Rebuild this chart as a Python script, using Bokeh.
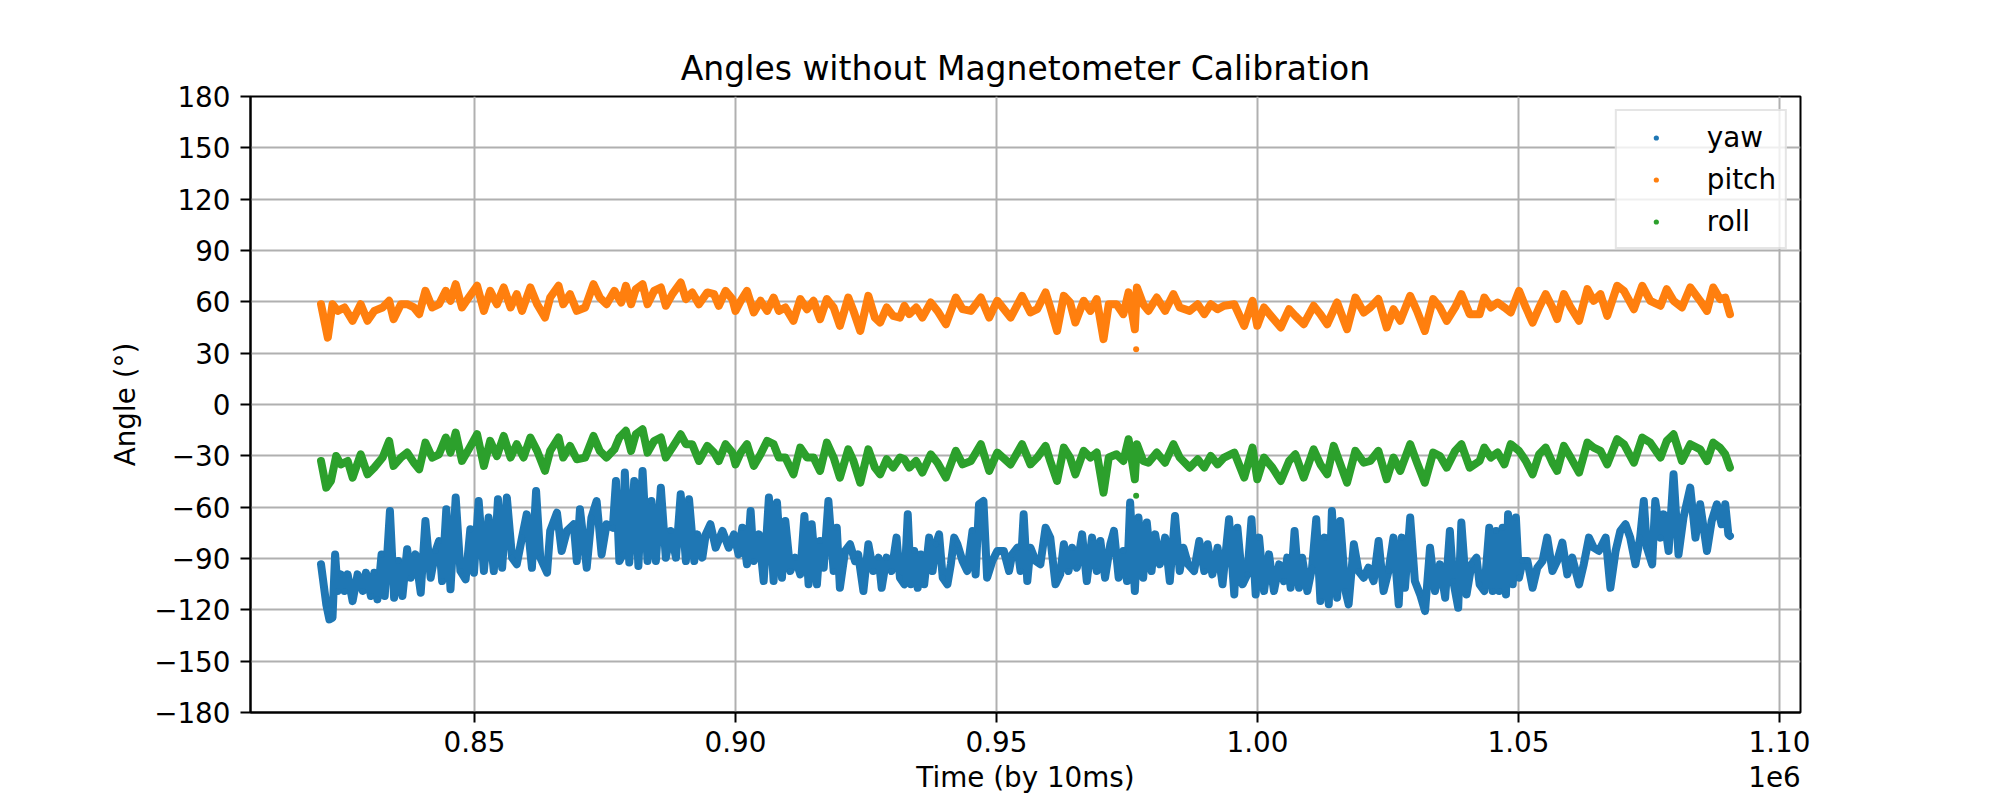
from bokeh.plotting import figure
from bokeh.models import Legend, LegendItem, FixedTicker, Range1d, LinearAxis
from bokeh.embed import file_html
from bokeh.resources import INLINE

# ---- data (time in thousands of 10 ms ticks, angle in degrees) ----
pitch_samples = [
    (820.6, 58.6), (821.9, 39.1), (822.8, 58.6), (823.8, 54.7), (825.1, 56.7), (826.65, 48.9),
    (828.2, 58.6), (829.5, 48.9), (830.8, 54.7), (832.4, 56.7), (833.65, 60.6), (834.5, 49.9),
    (835.9, 58.6), (837.1, 58.6), (838.4, 56.7), (839.4, 52.8), (840.6, 66.4), (841.9, 56.7),
    (843.2, 58.6), (844.5, 66.4), (845.4, 60.6), (846.4, 70.3), (847.6, 56.7), (848.9, 62.5),
    (850.5, 69.4), (851.8, 54.7), (853.0, 66.4), (854.3, 58.6), (855.6, 68.4), (856.9, 56.7),
    (858.1, 64.5), (859.1, 54.7), (860.7, 68.4), (862.0, 58.6), (863.5, 50.8), (864.5, 62.5),
    (866.1, 69.4), (867.0, 58.6), (868.3, 64.5), (869.6, 54.7), (871.2, 56.7), (872.8, 70.3),
    (874.0, 62.5), (875.3, 58.6),
    (876.8, 66.4), (878.1, 59.6), (879.0, 69.4), (880.0, 58.6), (880.9, 67.4), (882.2, 70.3),
    (883.15, 58.6), (884.4, 66.4), (885.7, 68.4), (886.65, 57.7), (887.9, 64.5), (889.5, 71.3),
    (890.5, 61.6), (891.7, 65.5), (893.0, 58.6), (894.6, 65.5), (895.9, 64.5), (896.8, 57.7),
    (898.1, 66.4), (899.4, 61.6), (900.0, 54.7), (901.0, 60.6), (902.2, 66.4), (903.5, 53.8),
    (904.8, 60.6), (906.05, 54.7), (907.3, 62.5), (908.3, 54.7), (909.55, 56.7), (911.1, 48.9),
    (912.4, 61.6), (913.7, 55.7), (914.95, 60.6), (916.2, 49.9), (917.5, 61.6), (918.8, 56.7),
    (920.0, 46.0), (921.6, 62.5), (922.6, 54.7), (923.9, 43.0), (925.45, 63.5), (926.7, 50.8),
    (927.7, 47.9), (928.95, 56.7), (930.2, 51.8), (931.5, 50.8),
    (932.35, 57.7), (933.3, 52.8), (934.6, 56.7), (935.8, 50.8), (937.4, 59.6), (938.7, 54.7),
    (940.3, 46.9), (942.2, 62.5), (943.5, 55.7), (945.1, 54.7), (947.0, 62.5), (948.6, 50.8),
    (950.15, 60.6), (952.7, 50.8), (954.9, 63.5), (956.5, 53.8), (957.8, 55.7), (959.4, 65.5),
    (960.3, 56.7), (961.6, 43.0), (962.9, 63.5), (964.1, 59.6), (965.1, 47.9), (966.7, 60.6),
    (968.0, 54.7), (969.2, 61.6), (970.5, 38.2), (971.5, 58.6), (973.0, 58.6), (974.3, 52.8),
    (975.3, 65.5), (976.5, 44.0), (976.9, 68.4), (978.1, 58.6), (979.1, 54.7), (980.7, 62.5),
    (982.3, 54.7), (983.9, 64.5), (985.1, 56.7), (987.0, 54.7),
    (988.55, 58.6), (989.8, 52.8), (991.05, 58.6), (992.35, 55.7), (993.6, 57.7), (995.55, 58.6),
    (997.45, 46.0), (999.05, 60.6), (999.95, 46.0), (1001.25, 56.7), (1002.85, 50.8), (1004.45, 45.0),
    (1006.05, 55.7), (1007.25, 51.8), (1008.85, 46.9), (1010.75, 57.7), (1012.05, 52.8), (1013.35, 46.9),
    (1015.25, 59.6), (1017.15, 44.0), (1018.75, 62.5), (1020.35, 53.8), (1021.6, 56.7), (1023.15, 61.6),
    (1024.75, 45.0), (1026.05, 55.7), (1027.35, 48.9), (1029.25, 63.5), (1030.55, 54.7), (1032.05, 43.0),
    (1033.65, 61.6), (1034.95, 56.7), (1036.25, 48.9), (1037.85, 56.7), (1039.05, 64.5), (1040.65, 52.8),
    (1042.55, 52.8),
    (1043.45, 62.5), (1044.7, 56.7), (1046.0, 59.6), (1047.3, 56.7), (1048.5, 53.8), (1050.1, 66.4),
    (1051.4, 56.7), (1052.7, 47.9), (1053.95, 56.7), (1055.2, 64.5), (1056.5, 56.7), (1057.4, 49.9),
    (1058.7, 64.5), (1060.0, 56.7), (1061.6, 48.9), (1063.2, 67.4), (1064.4, 60.6), (1065.7, 64.5),
    (1067.0, 51.8), (1068.9, 69.4), (1070.2, 66.4), (1072.1, 55.7), (1073.7, 69.4), (1075.25, 60.6),
    (1077.2, 57.7), (1078.4, 67.4), (1079.7, 60.6), (1081.3, 56.7), (1082.9, 68.4), (1084.8, 60.6),
    (1086.1, 54.7), (1087.3, 68.4), (1088.6, 61.6), (1089.6, 62.5), (1090.5, 52.8),
]

roll_samples = [
    (820.6, -33.0), (821.6, -48.6), (822.5, -44.7), (823.5, -30.1), (824.4, -35.0), (825.7, -33.0),
    (826.65, -42.7), (828.2, -29.1), (829.5, -40.8), (830.8, -36.9), (832.4, -31.0), (833.65, -21.3),
    (834.5, -35.9), (835.9, -31.0), (837.1, -28.1), (838.4, -34.0), (839.4, -37.9), (840.6, -22.3),
    (841.9, -31.0), (843.2, -29.1), (844.5, -19.3), (845.4, -28.1), (846.4, -16.4), (847.6, -33.0),
    (848.9, -26.2), (850.5, -17.4), (851.8, -35.9), (853.0, -21.3), (854.3, -30.1), (855.6, -18.4),
    (856.9, -31.0), (858.1, -23.2), (859.4, -31.0), (860.7, -19.3), (862.0, -27.1), (863.5, -38.8),
    (864.5, -27.1), (866.1, -19.3), (867.0, -31.0), (868.3, -24.2), (869.6, -32.0), (871.2, -31.0),
    (872.8, -18.4), (874.0, -27.1), (875.3, -31.0),
    (876.8, -26.2), (877.75, -19.3), (879.0, -15.4), (880.0, -27.1), (880.9, -17.4), (882.2, -14.5),
    (883.15, -28.1), (884.4, -21.3), (885.7, -19.3), (886.65, -31.0), (887.9, -25.2), (889.5, -17.4),
    (890.5, -23.2), (891.7, -23.2), (893.0, -33.0), (894.6, -24.2), (895.9, -28.1), (896.8, -33.0),
    (898.1, -23.2), (899.4, -28.1), (900.0, -35.0), (901.0, -28.1), (902.2, -23.2), (903.5, -35.9),
    (904.8, -29.1), (906.05, -21.3), (907.3, -23.2), (908.3, -31.0), (909.55, -31.0), (911.1, -40.8),
    (912.4, -25.2), (913.7, -31.0), (914.95, -31.0), (916.2, -38.8), (917.5, -22.3), (918.8, -31.0),
    (920.0, -42.7), (921.6, -26.2), (922.6, -33.0), (923.9, -45.7), (925.45, -26.2), (926.7, -36.9),
    (927.7, -40.8), (928.95, -32.0), (930.2, -36.9), (931.5, -31.0),
    (932.35, -32.0), (933.3, -36.9), (934.6, -33.0), (935.8, -39.8), (937.4, -29.1), (938.7, -34.0),
    (940.3, -42.7), (942.2, -27.1), (943.5, -35.0), (945.1, -33.0), (947.0, -23.2), (948.6, -38.8),
    (950.15, -28.1), (952.7, -35.0), (954.9, -23.2), (956.5, -35.0), (957.8, -31.0), (959.4, -24.2),
    (960.3, -33.0), (961.6, -44.7), (962.9, -25.2), (964.1, -31.0), (965.1, -40.8), (966.7, -27.1),
    (968.0, -31.0), (969.2, -28.1), (970.5, -51.5), (971.5, -31.0), (973.0, -29.1), (974.3, -33.0),
    (975.3, -20.3), (976.5, -43.7), (976.9, -23.2), (978.1, -33.0), (979.1, -34.0), (980.7, -28.1),
    (982.3, -34.0), (983.9, -23.2), (985.1, -31.0), (987.0, -36.9),
    (988.55, -32.0), (989.8, -36.9), (991.05, -30.1), (992.35, -35.0), (993.6, -31.0), (995.55, -28.1),
    (997.45, -42.7), (999.05, -25.2), (999.95, -43.7), (1001.25, -31.0), (1002.85, -36.9), (1004.45, -44.7),
    (1006.05, -33.0), (1007.25, -29.1), (1008.85, -42.7), (1010.75, -26.2), (1012.05, -35.0), (1013.35, -40.8),
    (1014.6, -24.2), (1017.15, -45.7), (1018.75, -27.1), (1020.35, -34.0), (1021.6, -33.0), (1023.15, -27.1),
    (1024.75, -43.7), (1026.05, -31.0), (1027.35, -38.8), (1029.25, -23.2), (1030.55, -34.0), (1032.05, -45.7),
    (1033.65, -28.1), (1034.95, -30.1), (1036.25, -36.9), (1037.85, -27.1), (1039.05, -23.2), (1040.65, -36.9),
    (1042.55, -33.0),
    (1043.45, -25.2), (1044.7, -31.0), (1046.0, -28.1), (1047.3, -35.0), (1048.5, -23.2), (1050.1, -27.1),
    (1051.4, -33.0), (1052.7, -40.8), (1053.95, -29.1), (1055.2, -25.2), (1056.5, -34.0), (1057.4, -38.8),
    (1058.7, -24.2), (1060.0, -31.0), (1061.6, -39.8), (1063.2, -22.3), (1064.4, -25.2), (1065.7, -27.1),
    (1067.0, -35.0), (1068.9, -20.3), (1070.2, -23.2), (1072.1, -34.0), (1073.7, -19.3), (1075.25, -22.3),
    (1077.2, -31.0), (1078.4, -21.3), (1079.7, -17.4), (1081.3, -33.0), (1082.9, -23.2), (1084.8, -26.2),
    (1086.1, -33.0), (1087.3, -22.3), (1088.6, -25.2), (1089.6, -29.1), (1090.5, -36.9),
]

yaw_samples = [
    (820.6, -93.4), (821.6, -116.8), (822.2, -125.6), (822.8, -124.6), (823.3, -87.6), (823.8, -109.0),
    (824.4, -99.3), (825.1, -109.0), (825.7, -99.3), (826.65, -114.9), (827.6, -99.3), (828.6, -109.0),
    (829.2, -98.3), (830.15, -111.9), (830.8, -98.3), (831.4, -113.9), (832.2, -87.6), (832.8, -111.9),
    (833.8, -62.2), (834.6, -112.9), (835.4, -91.5), (836.2, -111.9), (837.1, -84.6), (837.8, -101.2),
    (838.7, -87.6), (839.7, -110.0), (840.6, -68.1), (841.6, -101.2), (842.55, -85.6), (843.2, -79.8),
    (843.8, -103.2), (844.6, -61.2), (845.4, -108.0), (846.4, -54.4), (847.3, -97.3), (848.3, -102.2),
    (849.2, -72.9), (849.9, -98.3), (850.8, -56.4), (851.8, -97.3), (852.7, -66.1), (853.7, -97.3),
    (854.5, -55.4), (855.3, -95.4), (856.2, -54.4), (857.2, -89.5), (858.1, -93.4), (859.1, -77.8),
    (860.0, -64.2), (861.0, -95.4), (861.8, -50.5), (862.6, -89.5), (863.9, -98.3), (864.5, -73.9),
    (865.8, -63.2), (866.7, -85.6), (867.7, -73.9), (869.0, -70.0), (869.6, -91.5), (870.2, -61.2),
    (871.5, -95.4), (872.4, -66.1), (873.4, -56.4), (874.35, -87.6), (875.3, -70.0),
    (876.5, -72.0), (877.1, -44.7), (877.75, -91.5), (878.4, -87.6), (878.8, -39.8), (879.65, -92.4),
    (880.6, -44.7), (881.4, -94.4), (882.2, -38.8), (883.15, -91.5), (883.9, -56.4), (884.75, -91.5),
    (885.7, -48.6), (886.65, -89.5), (887.6, -73.9), (888.6, -89.5), (889.5, -52.5), (890.5, -91.5),
    (891.1, -55.4), (892.1, -91.5), (892.7, -75.9), (893.65, -89.5), (894.3, -75.9), (895.2, -70.0),
    (896.2, -83.7), (897.5, -73.9), (898.7, -83.7), (899.7, -75.9), (900.6, -87.6), (901.3, -72.0),
    (902.2, -93.4), (902.9, -62.2), (903.5, -91.5), (904.5, -75.9), (905.4, -103.2), (906.4, -54.4),
    (907.3, -103.2), (907.95, -57.3), (908.9, -101.2), (909.55, -68.1), (910.5, -97.3), (911.45, -89.5),
    (912.4, -99.3), (913.2, -65.1), (914.0, -105.1), (914.6, -70.0), (915.6, -105.1), (916.2, -79.8),
    (916.9, -95.4), (917.8, -56.4), (918.8, -97.3), (919.4, -72.0), (920.0, -107.1), (921.0, -85.6),
    (921.95, -81.7), (922.9, -91.5), (923.5, -87.6), (924.5, -109.0), (925.45, -81.7), (926.4, -97.3),
    (927.4, -89.5), (928.0, -107.1), (928.95, -89.5), (929.9, -97.3), (930.85, -77.8), (931.5, -101.2),
    (932.35, -105.1), (933.0, -64.2), (933.6, -105.1), (934.25, -85.6), (934.9, -107.1), (935.5, -87.6),
    (936.15, -105.1), (937.1, -77.8), (937.75, -97.3), (938.4, -81.7), (939.0, -75.9), (939.7, -101.2),
    (940.6, -105.1), (941.25, -93.4), (941.9, -77.8), (942.5, -81.7), (943.5, -91.5), (944.4, -97.3),
    (945.4, -73.9), (946.0, -99.3), (946.65, -58.3), (947.5, -56.4), (948.2, -101.2), (949.2, -91.5),
    (950.15, -85.6), (951.4, -85.6), (952.4, -97.3), (953.0, -87.6), (954.0, -83.7), (954.6, -97.3),
    (955.2, -64.2), (955.9, -103.2), (956.5, -83.7), (957.5, -91.5), (958.4, -93.4), (959.4, -72.0),
    (960.3, -77.8), (961.3, -105.1), (962.2, -99.3), (962.9, -81.7), (963.8, -97.3), (964.5, -83.7),
    (965.4, -95.4), (966.4, -75.9), (967.3, -103.2), (968.3, -77.8), (969.2, -97.3), (969.9, -79.8),
    (970.8, -101.2), (971.8, -81.7), (972.5, -73.9), (973.4, -101.2), (974.3, -85.6), (975.0, -103.2),
    (975.6, -57.3), (976.5, -109.0), (977.2, -66.1), (978.1, -101.2), (978.8, -69.0), (979.7, -97.3),
    (980.4, -75.9), (981.3, -93.4), (982.3, -77.8), (983.2, -103.2), (984.2, -65.1), (985.1, -97.3),
    (985.8, -83.7), (986.7, -93.4),
    (987.85, -97.3), (988.85, -79.8), (989.8, -97.3), (990.45, -81.7), (991.35, -99.3), (992.35, -83.7),
    (993.3, -105.1), (994.55, -67.1), (995.55, -111.0), (996.15, -72.0), (997.15, -105.1), (998.05, -99.3),
    (998.85, -67.1), (999.65, -111.0), (1000.3, -77.8), (1001.25, -109.0), (1002.2, -87.6), (1003.15, -109.0),
    (1004.15, -93.4), (1005.05, -103.2), (1005.7, -89.5), (1006.35, -107.1), (1007.1, -73.9), (1007.95, -107.1),
    (1008.55, -89.5), (1009.55, -109.0), (1010.45, -95.4), (1011.25, -67.1), (1012.05, -114.9), (1012.85, -77.8),
    (1013.65, -116.8), (1014.25, -62.2), (1015.25, -112.9), (1015.85, -68.1), (1016.85, -109.0), (1017.45, -116.8),
    (1018.45, -81.7), (1019.35, -97.3), (1020.35, -101.2), (1021.25, -95.4), (1022.25, -103.2), (1023.2, -79.8),
    (1024.15, -109.0), (1025.1, -97.3), (1026.05, -77.8), (1027.05, -116.8), (1027.65, -77.8), (1028.25, -107.1),
    (1029.25, -66.1), (1030.15, -103.2), (1031.15, -111.0), (1032.1, -120.7), (1033.05, -83.7), (1034.0, -109.0),
    (1034.95, -93.4), (1035.95, -112.9), (1036.85, -73.9), (1037.5, -103.2), (1038.45, -118.8), (1039.05, -69.0),
    (1040.05, -111.0), (1041.0, -93.4), (1041.95, -89.5), (1042.55, -105.1),
    (1043.45, -109.0), (1044.4, -72.0), (1045.05, -109.0), (1045.7, -73.9), (1046.3, -109.0), (1046.95, -72.0),
    (1047.6, -111.0), (1048.0, -64.2), (1048.9, -105.1), (1049.5, -66.1), (1050.1, -101.2), (1050.8, -91.5),
    (1051.7, -91.5), (1052.7, -107.1), (1053.6, -95.4), (1054.6, -91.5), (1055.5, -77.8), (1056.5, -97.3),
    (1057.4, -91.5), (1058.4, -80.7), (1059.35, -99.3), (1060.3, -89.5), (1061.6, -105.1), (1062.5, -93.4),
    (1063.5, -77.8), (1064.4, -83.7), (1065.4, -85.6), (1066.7, -77.8), (1067.6, -107.1), (1068.6, -85.6),
    (1069.5, -73.9), (1070.5, -70.0), (1071.4, -77.8), (1072.4, -93.4), (1073.3, -77.8), (1074.0, -56.4),
    (1074.6, -83.7), (1075.6, -93.4), (1076.2, -56.4), (1077.2, -77.8), (1077.8, -64.2), (1078.75, -85.6),
    (1079.7, -40.8), (1080.65, -87.6), (1081.6, -66.1), (1082.9, -48.6), (1083.9, -77.8), (1084.8, -58.3),
    (1086.1, -85.6), (1087.0, -68.1), (1088.0, -58.3), (1088.9, -70.0), (1089.6, -58.3), (1090.2, -75.9),
    (1090.5, -76.8),
]

# isolated samples away from the main trace
pitch_outliers = [(976.75, 32.3)]
roll_outliers = [(976.75, -53.4)]

x_tick_values = [850000, 900000, 950000, 1000000, 1050000, 1100000]
x_tick_labels = ["0.85", "0.90", "0.95", "1.00", "1.05", "1.10"]
y_tick_values = [-180, -150, -120, -90, -60, -30, 0, 30, 60, 90, 120, 150, 180]
y_tick_labels = ["\u2212180", "\u2212150", "\u2212120", "\u221290", "\u221260", "\u221230",
                 "0", "30", "60", "90", "120", "150", "180"]
x_axis_title = "Time (by 10ms)"
x_offset_text = "1e6"

series_names = ["yaw", "pitch", "roll"]
series_colors = ["#1f77b4", "#ff7f0e", "#2ca02c"]

X_LO, X_HI = 807090, 1104020
Y_LO, Y_HI = -180, 180
FRAME_W = 1550

# ---- figure ----
FONT = "DejaVu Sans"
p = figure(width=2000, height=800, output_backend="svg", toolbar_location=None,
           x_range=Range1d(X_LO, X_HI), y_range=Range1d(Y_LO, Y_HI),
           min_border_left=250, min_border_right=200, min_border_top=96, min_border_bottom=88,
           title="Angles without Magnetometer Calibration")
p.title.align = "center"
p.title.text_font = FONT
p.title.text_font_size = "33px"
p.title.text_font_style = "normal"
p.title.text_color = "black"
p.title.standoff = 18

p.background_fill_color = "white"
p.border_fill_color = "white"
p.outline_line_color = "black"
p.outline_line_width = 2

for ax in (p.xaxis, p.yaxis):
    ax.axis_line_width = 2
    ax.axis_line_color = "black"
    ax.major_tick_in = 0
    ax.major_tick_out = 10
    ax.major_tick_line_width = 2
    ax.minor_tick_line_color = None
    ax.major_label_text_font = FONT
    ax.major_label_text_font_size = "27.8px"
    ax.major_label_text_color = "black"
    ax.axis_label_text_font = FONT
    ax.axis_label_text_font_size = "27.8px"
    ax.axis_label_text_font_style = "normal"
    ax.axis_label_text_color = "black"

p.xaxis.ticker = FixedTicker(ticks=x_tick_values)
p.xaxis.major_label_overrides = dict(zip(x_tick_values, x_tick_labels))
p.yaxis.ticker = FixedTicker(ticks=y_tick_values)
p.yaxis.major_label_overrides = dict(zip(y_tick_values, y_tick_labels))
p.yaxis.axis_label = "Angle (\u00b0)"
p.xaxis.major_label_standoff = 8
p.yaxis.major_label_standoff = 10
p.yaxis.axis_label_standoff = 9

p.grid.grid_line_color = "#b0b0b0"
p.grid.grid_line_width = 2

# second row under the x axis: axis title (centred) and the 1e6 scale text (right)
x_title_pos = (X_LO + X_HI) / 2
x_offset_pos = X_LO + (FRAME_W - 26) / FRAME_W * (X_HI - X_LO)
title_axis = LinearAxis(ticker=FixedTicker(ticks=[x_title_pos, x_offset_pos]),
                        major_label_overrides={x_title_pos: x_axis_title, x_offset_pos: x_offset_text})
title_axis.axis_line_color = None
title_axis.major_tick_line_color = None
title_axis.minor_tick_line_color = None
title_axis.major_tick_in = 0
title_axis.major_tick_out = 0
title_axis.major_label_standoff = 6
title_axis.major_label_text_font = FONT
title_axis.major_label_text_font_size = "27.8px"
title_axis.major_label_text_color = "black"
p.add_layout(title_axis, "below")

all_samples = [yaw_samples, pitch_samples, roll_samples]
all_outliers = [[], pitch_outliers, roll_outliers]
items = []
for name, color, samples, outl in zip(series_names, series_colors, all_samples, all_outliers):
    t = [s[0] * 1000 for s in samples]
    v = [s[1] for s in samples]
    p.line(t, v, line_color=color, line_width=8, line_join="round", line_cap="round")
    r = p.scatter(t, v, size=6, fill_color=color, line_color=None)
    if outl:
        p.scatter([s[0] * 1000 for s in outl], [s[1] for s in outl], size=6,
                  fill_color=color, line_color=None)
    items.append(LegendItem(label=name, renderers=[r]))

legend = Legend(items=items, location="top_right")
legend.label_text_font = FONT
legend.label_text_font_size = "27.8px"
legend.label_text_color = "black"
legend.border_line_color = "#cccccc"
legend.border_line_width = 2
legend.background_fill_color = "white"
legend.background_fill_alpha = 0.8
legend.padding = 9
legend.glyph_width = 60
legend.glyph_height = 13
legend.label_height = 34
legend.spacing = 8
legend.label_standoff = 21
legend.margin = 13
p.add_layout(legend)

open("out.html", "w").write(file_html(p, INLINE))
